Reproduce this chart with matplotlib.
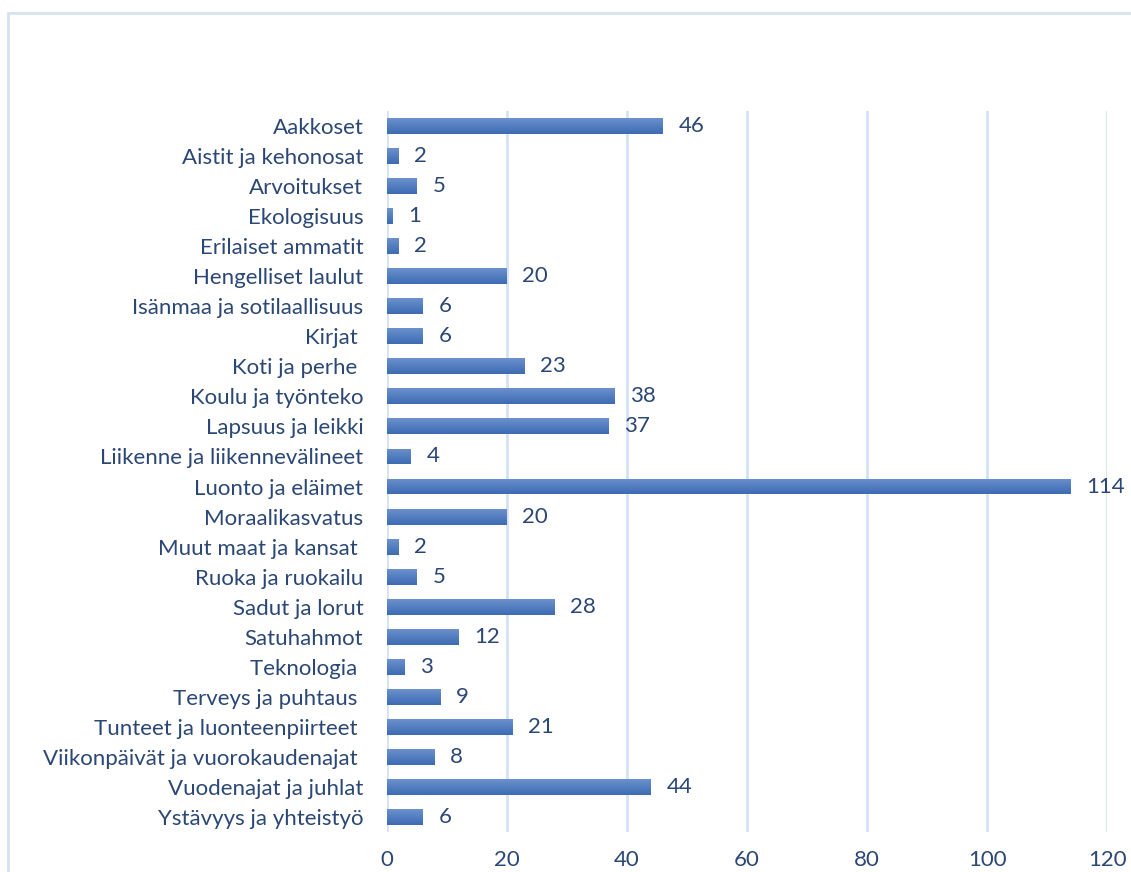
import numpy as np
import matplotlib.pyplot as plt
from matplotlib.patches import Rectangle
from matplotlib.colors import LinearSegmentedColormap

categories = ['Aakkoset', 'Aistit ja kehonosat', 'Arvoitukset', 'Ekologisuus',
              'Erilaiset ammatit', 'Hengelliset laulut', 'Isänmaa ja sotilaallisuus',
              'Kirjat ', 'Koti ja perhe ', 'Koulu ja työnteko', 'Lapsuus ja leikki',
              'Liikenne ja liikennevälineet', 'Luonto ja eläimet', 'Moraalikasvatus',
              'Muut maat ja kansat ', 'Ruoka ja ruokailu', 'Sadut ja lorut', 'Satuhahmot',
              'Teknologia ', 'Terveys ja puhtaus ', 'Tunteet ja luonteenpiirteet ',
              'Viikonpäivät ja vuorokaudenajat ', 'Vuodenajat ja juhlat', 'Ystävyys ja yhteistyö']
values = [46, 2, 5, 1, 2, 20, 6, 6, 23, 38, 37, 4, 114, 20, 2, 5, 28, 12, 3, 9, 21, 8, 44, 6]
xticks = [0, 20, 40, 60, 80, 100, 120]

text_col = '#2B4775'
grid_col = '#D6E2F2'
fs = 16
plt.rcParams['font.family'] = ['Lato', 'DejaVu Sans']

fig = plt.figure(figsize=(11.31, 8.72), dpi=100)
ax = fig.add_axes([0.3422, 0.0459, 0.6366, 0.8268])

# outer chart border
fig.add_artist(Rectangle((8 / 1131, -0.05), 1.2, 1 - 13 / 872 + 0.05, transform=fig.transFigure,
                         fill=False, edgecolor=grid_col, linewidth=2))

y = np.arange(len(categories))
bars = ax.barh(y, values, height=0.53, color='#4F7CC0', zorder=3)

# vertical gradient inside each bar (lighter on top)
grad = np.linspace(0, 1, 64).reshape(-1, 1)
cmap = LinearSegmentedColormap.from_list('barg', ['#6B91CD', '#3D6BB3'])
for b in bars:
    x0, y0 = b.get_x(), b.get_y()
    w, h = b.get_width(), b.get_height()
    im = ax.imshow(grad, cmap=cmap, aspect='auto', extent=(x0, x0 + w, y0 + h, y0),
                   zorder=4, origin='upper')
    im.set_clip_path(b)

for yi, v in zip(y, values):
    ax.annotate(str(v), (v, yi), xytext=(11, 0), textcoords='offset points',
                va='center', ha='left', fontsize=fs, color=text_col)

ax.set_xlim(0, 120)
ax.set_ylim(len(categories) - 0.5, -0.5)
ax.set_yticks(y)
ax.set_yticklabels(categories, fontsize=fs, color=text_col)
ax.set_xticks(xticks)
ax.set_xticklabels([str(t) for t in xticks], fontsize=fs, color=text_col)
ax.tick_params(axis='both', length=0)
ax.tick_params(axis='x', pad=13)
ax.tick_params(axis='y', pad=17)
ax.grid(axis='x', color=grid_col, linewidth=2, zorder=0)
for s in ax.spines.values():
    s.set_visible(False)

fig.savefig('out.png', dpi=100)
